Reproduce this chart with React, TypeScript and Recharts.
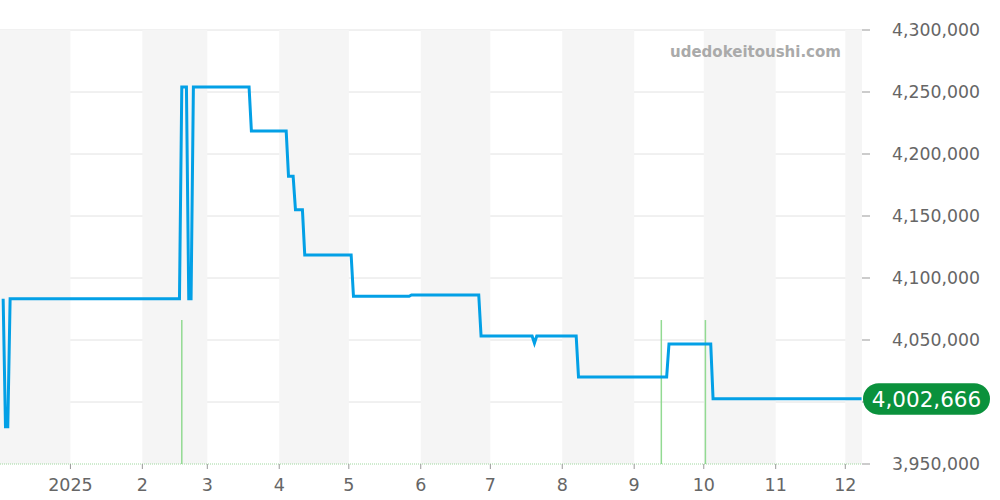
import React from 'react';
import {
  LineChart,
  Line,
  XAxis,
  YAxis,
  CartesianGrid,
  ReferenceArea,
  ReferenceLine,
  ReferenceDot,
} from 'recharts';

// x values are days since 2025-01-01
const priceDays = [
  -29, -28, -27, -26, 47, 48, 50, 51, 52, 53, 77, 78, 93, 94, 96, 97, 100, 101,
  121, 122, 146, 147, 176, 177, 199, 200, 201, 218, 219, 257, 258, 276, 277, 341,
];
const priceValues = [
  4083300, 3980000, 3980000, 4083300, 4083300, 4254000, 4254000, 4083300, 4083300,
  4254000, 4254000, 4218500, 4218500, 4182000, 4182000, 4155000, 4155000, 4118500,
  4118500, 4085300, 4085300, 4086300, 4086300, 4053200, 4053200, 4047500, 4053200,
  4053200, 4020200, 4020200, 4046800, 4046800, 4002666, 4002666,
];

const monthTickDays = [0, 31, 59, 90, 120, 151, 181, 212, 243, 273, 304, 334];
const monthTickLabels = ['2025', '2', '3', '4', '5', '6', '7', '8', '9', '10', '11', '12'];

const shadedBandStarts = [-30.36, 31, 90, 151, 212, 273, 334];
const shadedBandEnds = [0, 59, 120, 181, 243, 304, 341.2];

const eventDays = [48, 254.7, 273.7];
const eventTop = 4066100;

const yTicks = [3950000, 4000000, 4050000, 4100000, 4150000, 4200000, 4250000, 4300000];
// tick label hidden behind the last-price badge
const hiddenYTickLabel = 4000000;
const xDomain: [number, number] = [-30.36, 341.2];

const data = priceDays.map((d, i) => ({ day: d, price: priceValues[i] }));
const lastPrice = priceValues[priceValues.length - 1];

const fmt = (v: number) => v.toLocaleString('en-US');

const Badge = (props: any) => {
  const { cx, cy } = props;
  return (
    <g>
      <rect x={cx + 1} y={cy - 15.5} width={127} height={31.5} rx={15.75} fill="#0a913c" />
      <text
        x={cx + 64.5}
        y={cy + 1}
        textAnchor="middle"
        dominantBaseline="central"
        fill="#ffffff"
        fontSize={21.5}
        fontFamily="DejaVu Sans"
      >
        {fmt(lastPrice)}
      </text>
    </g>
  );
};

export default function App() {
  return (
    <div style={{ position: 'absolute', left: 0, top: 0, width: 1000, height: 500, fontFamily: 'DejaVu Sans' }}>
      <LineChart
        width={1000}
        height={500}
        data={data}
        margin={{ top: 30, right: 0, left: 0, bottom: 0 }}
      >
        {shadedBandStarts.map((s, i) => (
          <ReferenceArea
            key={'b' + i}
            x1={s}
            x2={shadedBandEnds[i]}
            y1={3950000}
            y2={4300000}
            fill="#f5f5f5"
            fillOpacity={1}
            stroke="none"
            ifOverflow="hidden"
          />
        ))}
        <CartesianGrid
          vertical={false}
          stroke="#e2e2e2"
          horizontalValues={yTicks.filter((t) => t !== 3950000)}
        />
        <XAxis
          dataKey="day"
          type="number"
          domain={xDomain}
          allowDataOverflow
          ticks={monthTickDays}
          tickFormatter={(v: number) => monthTickLabels[monthTickDays.indexOf(v)] ?? ''}
          height={36}
          tickSize={5}
          tickMargin={10}
          tick={{ fill: '#666', fontSize: 17.5, fontFamily: 'DejaVu Sans' }}
          tickLine={{ stroke: '#999' }}
          axisLine={{ stroke: '#9ed89e', strokeDasharray: '1 1' }}
        />
        <YAxis
          orientation="right"
          type="number"
          domain={[3950000, 4300000]}
          allowDataOverflow
          ticks={yTicks}
          tickFormatter={(v: number) => (v === hiddenYTickLabel ? '' : fmt(v))}
          width={138}
          tickSize={8}
          tickMargin={22}
          tick={{ fill: '#666', fontSize: 17.3, fontFamily: 'DejaVu Sans', textAnchor: 'start' }}
          tickLine={{ stroke: '#999' }}
          axisLine={false}
        />
        {eventDays.map((d, i) => (
          <ReferenceLine
            key={'e' + i}
            segment={[
              { x: d, y: 3950000 },
              { x: d, y: eventTop },
            ]}
            stroke="#92da92"
            strokeWidth={1.5}
          />
        ))}
        <Line
          type="linear"
          dataKey="price"
          stroke="#03a0e6"
          strokeWidth={3}
          dot={false}
          isAnimationActive={false}
        />
        <ReferenceDot
          x={xDomain[1]}
          y={lastPrice}
          ifOverflow="visible"
          shape={Badge}
        />
      </LineChart>
      <div
        style={{
          position: 'absolute',
          left: 670,
          top: 42,
          width: 170,
          textAlign: 'center',
          fontFamily: 'DejaVu Sans',
          fontWeight: 'bold',
          fontSize: 15,
          color: '#aaaaaa',
          lineHeight: '20px',
          whiteSpace: 'nowrap',
        }}
      >
        udedokeitoushi.com
      </div>
    </div>
  );
}
